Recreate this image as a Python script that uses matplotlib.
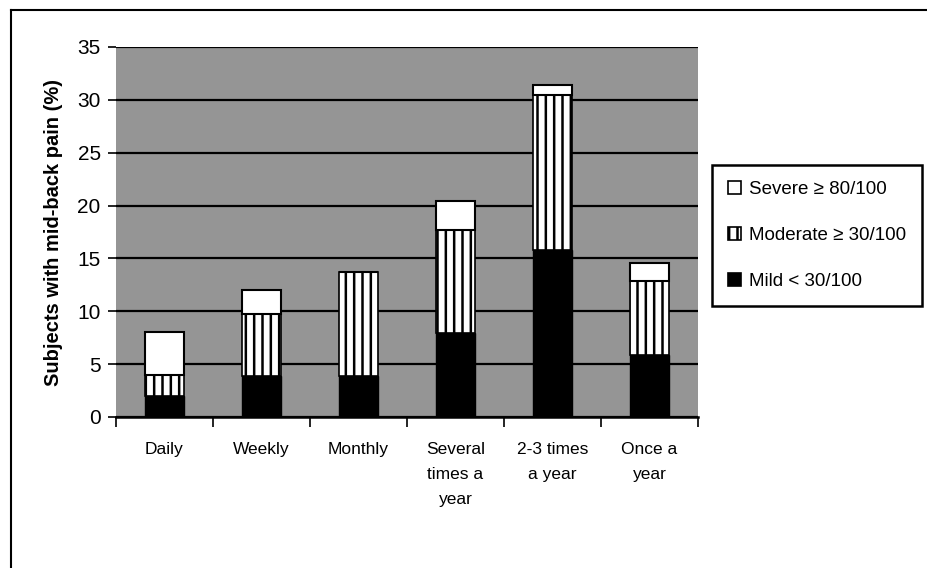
import matplotlib
matplotlib.use("Agg")
import matplotlib.pyplot as plt
from matplotlib.lines import Line2D
from matplotlib.patches import Patch
import numpy as np

categories = ["Daily", "Weekly", "Monthly", "Several\ntimes a\nyear", "2-3 times\na year", "Once a\nyear"]
mild = [2.0, 3.9, 3.9, 7.9, 15.8, 5.9]
moderate = [2.0, 5.8, 9.8, 9.8, 14.7, 7.0]
severe = [4.0, 2.3, 0.0, 2.7, 0.9, 1.7]
yticks = [0, 5, 10, 15, 20, 25, 30, 35]
legend_labels = ["Severe \u2265 80/100", "Moderate \u2265 30/100", "Mild < 30/100"]

plt.rcParams['font.family'] = ['Liberation Sans', 'DejaVu Sans']
plt.rcParams['hatch.linewidth'] = 1.8

fig = plt.figure(figsize=(9.28, 5.68), dpi=100)
ax = fig.add_axes([116/928, 1-417/568, 582/928, 370/568])
ax.set_facecolor('#959595')

x = np.arange(len(categories))
w = 0.41
mild_a = np.array(mild)
mod_a = np.array(moderate)
sev_a = np.array(severe)
ax.bar(x, mild_a, w, color='black', edgecolor='black', linewidth=1, zorder=3)
ax.bar(x, mod_a, w, bottom=mild_a, color='white', edgecolor='black', hatch='||', linewidth=1.2, zorder=3)
ax.bar(x, sev_a, w, bottom=mild_a + mod_a, color='white', edgecolor='black', linewidth=1.5, zorder=3)

ax.set_xlim(-0.5, len(categories) - 0.5)
ax.set_ylim(0, 35)
ax.set_yticks(yticks)
ax.set_yticklabels([str(v) for v in yticks], fontsize=15)
ax.yaxis.grid(True, color='black', linewidth=1.6, zorder=1)
ax.set_axisbelow(True)

ax.set_xticks(np.arange(len(categories) + 1) - 0.5, minor=False)
ax.set_xticklabels([])
ax.set_xticks(x, minor=True)
ax.set_xticklabels(categories, minor=True, fontsize=12.5, linespacing=1.85, va='top')
ax.tick_params(axis='x', which='minor', length=0, pad=18)
ax.tick_params(axis='x', which='major', length=7, width=1.2, direction='out')
ax.tick_params(axis='y', length=6, width=1.2, direction='out', pad=5)

for s in ['top', 'right', 'left']:
    ax.spines[s].set_visible(False)
ax.spines['bottom'].set_linewidth(1.8)

ax.set_ylabel("Subjects with mid-back pain (%)", fontsize=14.5, fontweight='bold', labelpad=10)

handles = [Patch(facecolor='white', edgecolor='black', linewidth=1.2),
           Patch(facecolor='white', edgecolor='black', hatch='||', linewidth=1.2),
           Patch(facecolor='black', edgecolor='black', linewidth=1.2)]
leg = fig.legend(handles, legend_labels, loc='upper left',
                 bbox_to_anchor=(712/928, 1-165/568), fontsize=13.5,
                 handlelength=0.7, handleheight=0.7, handletextpad=0.4,
                 labelspacing=1.55, borderpad=0.85, borderaxespad=0, fancybox=False,
                 edgecolor='black', framealpha=1)
leg.get_frame().set_linewidth(1.8)

fig.add_artist(Line2D([11/928, 11/928], [0, 1-10/568], color='black', linewidth=1.5, transform=fig.transFigure))
fig.add_artist(Line2D([11/928, 1], [1-10/568, 1-10/568], color='black', linewidth=1.5, transform=fig.transFigure))

fig.savefig("out.png", dpi=100)
